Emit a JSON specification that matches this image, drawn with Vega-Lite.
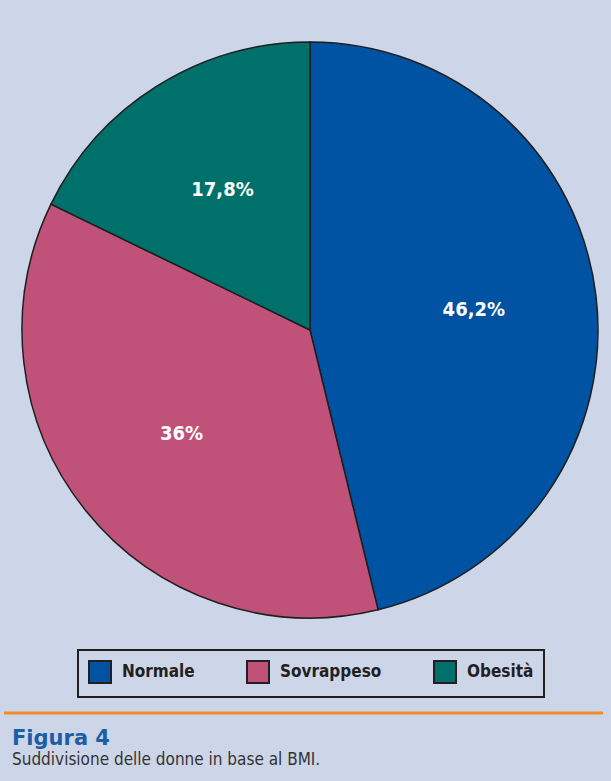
{
  "$schema": "https://vega.github.io/schema/vega-lite/v6.json",
  "width": 620,
  "height": 660,
  "padding": {"top": 0, "left": 0, "right": 0, "bottom": 121},
  "autosize": {"type": "none"},
  "background": "#cdd6e8",
  "config": {"view": {"stroke": null}, "legend": {"strokeWidth": 2}},
  "title": {
    "text": "Figura 4",
    "subtitle": "Suddivisione delle donne in base al BMI.",
    "orient": "bottom",
    "anchor": "start",
    "frame": "group",
    "offset": 13,
    "dx": 12,
    "font": "DejaVu Sans",
    "fontWeight": 900,
    "fontSize": 21,
    "color": "#1b5ea5",
    "subtitleFont": "DejaVu Sans Condensed, Liberation Sans, sans-serif",
    "subtitleFontSize": 17,
    "subtitleColor": "#333333",
    "subtitlePadding": 3
  },
  "layer": [
    {
      "data": {
        "name": "pie",
        "values": [
          {"categoria": "Normale", "valore": 46.2, "etichetta": "46,2%", "ordine": 1},
          {"categoria": "Sovrappeso", "valore": 36.0, "etichetta": "36%", "ordine": 2},
          {"categoria": "Obesità", "valore": 17.8, "etichetta": "17,8%", "ordine": 3}
        ]
      },
      "encoding": {
        "theta": {"field": "valore", "type": "quantitative", "stack": true},
        "order": {"field": "ordine", "type": "quantitative"}
      },
      "layer": [
        {
          "mark": {"type": "arc", "outerRadius": 288, "stroke": "#1e1e1e", "strokeWidth": 1.5},
          "encoding": {
            "color": {
              "field": "categoria",
              "type": "nominal",
              "scale": {"domain": ["Normale", "Sovrappeso", "Obesità"], "range": ["#0052a3", "#c0527a", "#00706a"]},
              "legend": {
                "title": null,
                "orient": "none",
                "legendX": 78,
                "legendY": 650,
                "direction": "horizontal",
                "columns": 3,
                "columnPadding": 48,
                "symbolType": "square",
                "symbolSize": 484,
                "symbolStrokeColor": "#231f20",
                "symbolStrokeWidth": 2,
                "symbolOpacity": 1,
                "labelFont": "DejaVu Sans Condensed, Liberation Sans, sans-serif",
                "labelFontWeight": "bold",
                "labelFontSize": 17,
                "labelColor": "#231f20",
                "labelOffset": 10,
                "padding": 10,
                "strokeColor": "#231f20"
              }
            }
          }
        },
        {
          "mark": {"type": "text", "radius": 165, "font": "DejaVu Sans Condensed, Liberation Sans, sans-serif", "fontWeight": "bold", "fontSize": 20, "fill": "#ffffff"},
          "encoding": {"text": {"field": "etichetta", "type": "nominal"}}
        }
      ]
    },
    {
      "data": {"values": [{"linea": "separatore"}]},
      "mark": {"type": "rule", "color": "#f28c28", "strokeWidth": 3},
      "encoding": {"y": {"value": 713}, "x": {"value": 4}, "x2": {"value": 603}}
    }
  ]
}
